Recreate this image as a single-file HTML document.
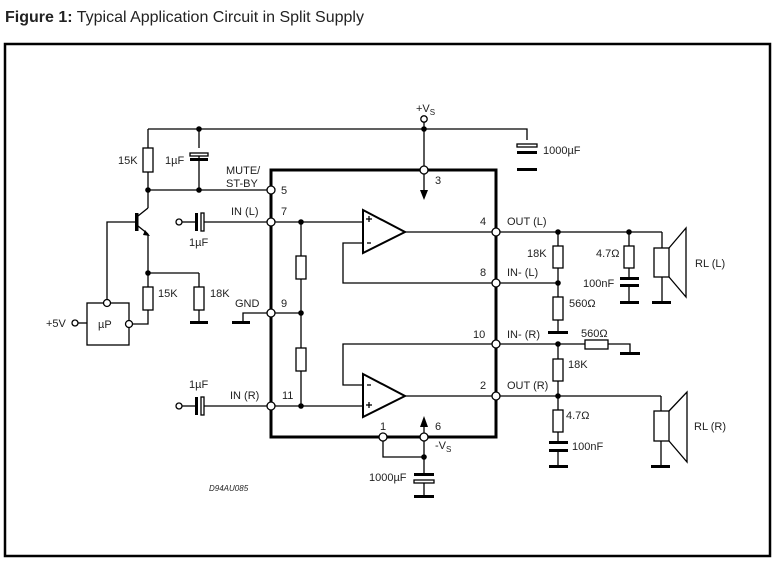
<!DOCTYPE html>
<html><head><meta charset="utf-8"><style>
html,body{margin:0;padding:0;background:#fff;width:776px;height:561px;overflow:hidden}
svg{display:block}
text{font-family:"Liberation Sans",Arial,sans-serif;font-size:11px;fill:#222}
</style></head><body>
<svg width="776" height="561" viewBox="0 0 776 561" xmlns="http://www.w3.org/2000/svg">
<text x="5" y="22" style="font-size:16px"><tspan font-weight="bold">Figure 1:</tspan> Typical Application Circuit in Split Supply</text>
<rect x="5" y="44" width="765" height="512" fill="none" stroke="#000" stroke-width="2.5"/>
<g stroke="#000" stroke-width="1.3" fill="none">
<rect x="271" y="170" width="225" height="267" stroke-width="3"/>
<polyline points="148,129 527,129 527,140"/>
<line x1="424" y1="122" x2="424" y2="194"/>
<line x1="148" y1="129" x2="148" y2="148"/>
<line x1="148" y1="172" x2="148" y2="190"/>
<line x1="199" y1="129" x2="199" y2="148"/>
<line x1="199" y1="155" x2="199" y2="190"/>
<line x1="148" y1="190" x2="271" y2="190"/>
<line x1="148" y1="190" x2="148" y2="208"/><line x1="148" y1="208" x2="138" y2="216"/>
<line x1="138" y1="226" x2="148" y2="234"/><line x1="148" y1="234" x2="148" y2="273"/>
<polyline points="137,222 107,222 107,300"/>
<line x1="148" y1="273" x2="199" y2="273"/><line x1="199" y1="273" x2="199" y2="287"/>
<line x1="148" y1="273" x2="148" y2="287"/>
<polyline points="148,310 148,324 132,324"/>
<line x1="199" y1="310" x2="199" y2="321"/>
<rect x="87" y="303" width="42" height="42"/>
<line x1="78" y1="323" x2="87" y2="323"/>
<polyline points="243,321 243,313 271,313"/>
<line x1="182" y1="222" x2="196" y2="222"/><line x1="202" y1="222" x2="271" y2="222"/>
<line x1="182" y1="406" x2="196" y2="406"/><line x1="202" y1="406" x2="271" y2="406"/>
<line x1="271" y1="222" x2="363" y2="222"/>
<line x1="271" y1="406" x2="363" y2="406"/>
<line x1="271" y1="313" x2="301" y2="313"/>
<line x1="301" y1="222" x2="301" y2="256"/><line x1="301" y1="279" x2="301" y2="348"/><line x1="301" y1="371" x2="301" y2="406"/>
<polygon points="363,210 363,253 405,232" stroke-width="2"/>
<polygon points="363,374 363,417 405,396" stroke-width="2"/>
<line x1="405" y1="232" x2="496" y2="232"/>
<line x1="405" y1="396" x2="496" y2="396"/>
<polyline points="363,243 343,243 343,283 496,283"/>
<polyline points="363,385 343,385 343,344 496,344"/>
<line x1="366" y1="219" x2="372" y2="219"/><line x1="369" y1="216" x2="369" y2="222"/>
<line x1="367" y1="243" x2="371" y2="243"/>
<line x1="366" y1="405" x2="372" y2="405"/><line x1="369" y1="402" x2="369" y2="408"/>
<line x1="367" y1="385" x2="371" y2="385"/>
<polyline points="383,437 383,457 424,457"/>
<line x1="424" y1="437" x2="424" y2="474"/>
<line x1="424" y1="481" x2="424" y2="496"/>
<line x1="424" y1="425" x2="424" y2="437"/>
<line x1="496" y1="232" x2="662" y2="232"/><line x1="662" y1="232" x2="662" y2="248"/>
<line x1="662" y1="277" x2="662" y2="301"/>
<line x1="496" y1="283" x2="558" y2="283"/>
<line x1="558" y1="232" x2="558" y2="246"/><line x1="558" y1="268" x2="558" y2="297"/><line x1="558" y1="320" x2="558" y2="331"/>
<line x1="629" y1="232" x2="629" y2="246"/><line x1="629" y1="268" x2="629" y2="279"/><line x1="629" y1="285" x2="629" y2="301"/>
<polyline points="669,248 686,228 686,297 669,277"/>
<line x1="496" y1="344" x2="585" y2="344"/><polyline points="608,344 630,344 630,352"/>
<line x1="496" y1="396" x2="661" y2="396"/><line x1="661" y1="396" x2="661" y2="411"/>
<line x1="661" y1="441" x2="661" y2="465"/>
<line x1="558" y1="344" x2="558" y2="359"/><line x1="558" y1="381" x2="558" y2="410"/><line x1="558" y1="432" x2="558" y2="443"/><line x1="558" y1="450" x2="558" y2="465"/>
<polyline points="669,411 687,392 687,462 669,441"/>
<g fill="#fff">
<rect x="143" y="148" width="10" height="24"/>
<rect x="143" y="287" width="10" height="23"/>
<rect x="194" y="287" width="10" height="23"/>
<rect x="296" y="256" width="10" height="23"/>
<rect x="296" y="348" width="10" height="23"/>
<rect x="553" y="246" width="10" height="22"/>
<rect x="553" y="297" width="10" height="23"/>
<rect x="624" y="246" width="10" height="22"/>
<rect x="654" y="248" width="15" height="29"/>
<rect x="553" y="359" width="10" height="22"/>
<rect x="553" y="410" width="10" height="22"/>
<rect x="585" y="340" width="23" height="9"/>
<rect x="654" y="411" width="15" height="30"/>
<rect x="190" y="153" width="18" height="3"/>
<rect x="201" y="213" width="3" height="18"/>
<rect x="201" y="397" width="3" height="18"/>
<rect x="517" y="144" width="20" height="3"/>
<rect x="414" y="480" width="20" height="3"/>
</g>
</g>
<g fill="#000">
<rect x="190" y="158" width="18" height="3"/>
<rect x="195" y="213" width="3" height="18"/>
<rect x="195" y="397" width="3" height="18"/>
<rect x="517" y="151" width="20" height="3"/>
<rect x="517" y="168" width="20" height="3"/>
<rect x="414" y="473" width="20" height="3"/>
<rect x="414" y="495" width="20" height="3"/>
<rect x="620" y="277" width="19" height="3"/>
<rect x="620" y="284" width="19" height="3"/>
<rect x="620" y="301" width="19" height="3"/>
<rect x="652" y="301" width="19" height="3"/>
<rect x="548" y="331" width="20" height="3"/>
<rect x="549" y="441" width="19" height="3"/>
<rect x="549" y="449" width="19" height="3"/>
<rect x="549" y="465" width="19" height="3"/>
<rect x="651" y="465" width="19" height="3"/>
<rect x="620" y="352" width="20" height="3"/>
<rect x="190" y="321" width="18" height="3"/>
<rect x="232" y="321" width="18" height="3"/>
<rect x="135" y="213" width="3.5" height="18"/>
<polygon points="145,230 150,236 143,235"/>
<polygon points="420,190 428,190 424,200"/>
<polygon points="420,427 428,427 424,416"/>
<circle cx="199" cy="129" r="2.8"/><circle cx="424" cy="129" r="2.8"/>
<circle cx="148" cy="190" r="2.8"/><circle cx="199" cy="190" r="2.8"/>
<circle cx="148" cy="273" r="2.8"/><circle cx="301" cy="222" r="2.8"/>
<circle cx="301" cy="313" r="2.8"/><circle cx="301" cy="406" r="2.8"/>
<circle cx="558" cy="232" r="2.8"/><circle cx="629" cy="232" r="2.8"/>
<circle cx="558" cy="283" r="2.8"/><circle cx="558" cy="344" r="2.8"/>
<circle cx="558" cy="396" r="2.8"/><circle cx="424" cy="457" r="2.8"/>
</g>
<g fill="#fff" stroke="#000" stroke-width="1.3">
<circle cx="424" cy="119" r="3.2"/><circle cx="424" cy="170" r="4"/>
<circle cx="271" cy="190" r="4"/><circle cx="271" cy="222" r="4"/>
<circle cx="271" cy="313" r="4"/><circle cx="271" cy="406" r="4"/>
<circle cx="496" cy="232" r="4"/><circle cx="496" cy="283" r="4"/>
<circle cx="496" cy="344" r="4"/><circle cx="496" cy="396" r="4"/>
<circle cx="383" cy="437" r="4"/><circle cx="424" cy="437" r="4"/>
<circle cx="179" cy="222" r="3"/><circle cx="179" cy="406" r="3"/>
<circle cx="107" cy="303" r="3.5"/><circle cx="129" cy="324" r="3.5"/>
<circle cx="75" cy="323" r="3"/>
</g>
<g>
<text x="416" y="112">+V<tspan font-size="8" dy="3">S</tspan></text>
<text x="118" y="164">15K</text>
<text x="165" y="164">1µF</text>
<text x="226" y="174">MUTE/</text>
<text x="226" y="187">ST-BY</text>
<text x="281" y="194">5</text>
<text x="231" y="215">IN (L)</text>
<text x="281" y="215">7</text>
<text x="189" y="246">1µF</text>
<text x="158" y="297">15K</text>
<text x="210" y="297">18K</text>
<text x="235" y="307">GND</text>
<text x="281" y="307">9</text>
<text x="98" y="328">µP</text>
<text x="46" y="327">+5V</text>
<text x="435" y="184">3</text>
<text x="543" y="154">1000µF</text>
<text x="480" y="225">4</text>
<text x="507" y="225">OUT (L)</text>
<text x="527" y="257">18K</text>
<text x="596" y="257">4.7Ω</text>
<text x="695" y="267">RL (L)</text>
<text x="480" y="276">8</text>
<text x="507" y="276">IN- (L)</text>
<text x="583" y="287">100nF</text>
<text x="569" y="307">560Ω</text>
<text x="473" y="338">10</text>
<text x="507" y="338">IN- (R)</text>
<text x="581" y="337">560Ω</text>
<text x="568" y="368">18K</text>
<text x="507" y="389">OUT (R)</text>
<text x="480" y="389">2</text>
<text x="189" y="388">1µF</text>
<text x="230" y="399">IN (R)</text>
<text x="282" y="399">11</text>
<text x="566" y="419">4.7Ω</text>
<text x="694" y="430">RL (R)</text>
<text x="380" y="430">1</text>
<text x="435" y="430">6</text>
<text x="435" y="449">-V<tspan font-size="8" dy="3">S</tspan></text>
<text x="369" y="481">1000µF</text>
<text x="572" y="450">100nF</text>
<text x="209" y="491" style="font-size:8px;font-style:italic">D94AU085</text>
</g>
</svg>
</body></html>
